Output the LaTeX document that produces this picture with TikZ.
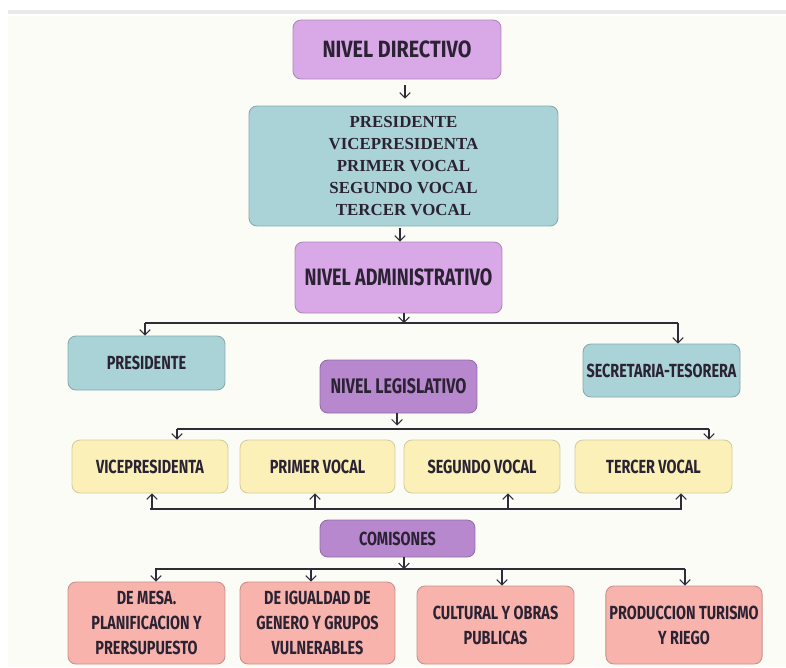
\documentclass[tikz,border=0pt]{standalone}
\usepackage{fontspec}
\setmainfont{Liberation Serif}
\newfontfamily\condfont[FakeStretch=0.76]{Fira Sans}
\newfontfamily\anchafont[FakeStretch=0.84]{Fira Sans}
\usepackage{tikz}
\usetikzlibrary{arrows.meta}
\definecolor{fondo}{HTML}{FCFCF7}
\definecolor{banda}{HTML}{E9E9E9}
\definecolor{violetaclaro}{HTML}{D9A8E7}
\definecolor{violetaosc}{HTML}{B888CF}
\definecolor{celeste}{HTML}{A9D3D7}
\definecolor{amarillo}{HTML}{FAF0B8}
\definecolor{salmon}{HTML}{F8B4AC}
\definecolor{tinta}{HTML}{2B2233}
\definecolor{linea}{HTML}{2F2C3A}

\begin{document}
\begin{tikzpicture}[x=0.02cm,y=-0.02cm,
	caja/.style={rounded corners=4.5pt, line width=0.5pt, text=tinta, align=center, inner sep=2pt},
	nivel/.style={caja, fill=violetaclaro, draw=violetaclaro!80!black, font=\anchafont\bfseries\fontsize{13.4}{15}\selectfont},
	nivelosc/.style={caja, fill=violetaosc, draw=violetaosc!80!black, font=\condfont\bfseries\fontsize{10.8}{13}\selectfont},
	azul/.style={caja, fill=celeste, draw=celeste!80!black, font=\condfont\bfseries\fontsize{10.8}{13}\selectfont},
	amar/.style={caja, fill=amarillo, draw=amarillo!85!black, font=\condfont\bfseries\fontsize{10.8}{13}\selectfont, minimum height=1.06cm},
	rojo/.style={caja, fill=salmon, draw=salmon!80!black, font=\condfont\bfseries\fontsize{10.8}{14.2}\selectfont},
	flecha/.style={draw=linea, line width=0.6pt, -{Straight Barb[length=3pt,width=6pt]}},
	bus/.style={draw=linea, line width=1.3pt}]
	\useasboundingbox (0,0) rectangle (786,667);
	\fill[white] (0,0) rectangle (786,667);
	\fill[banda] (8,10) rectangle (786,14);
	\fill[fondo] (8,16) rectangle (786,667);

	\node[nivel, minimum width=4.16cm, minimum height=1.18cm] (dir) at (397,49.5) {NIVEL DIRECTIVO};
	\node[caja, fill=celeste, draw=celeste!80!black, minimum width=6.18cm, minimum height=2.4cm,
		font=\bfseries\fontsize{9.6}{12.6}\selectfont] (junta) at (403.5,166)
		{PRESIDENTE\\VICEPRESIDENTA\\PRIMER VOCAL\\SEGUNDO VOCAL\\TERCER VOCAL};
	\node[nivel, minimum width=4.14cm, minimum height=1.42cm, font=\condfont\bfseries\fontsize{13.5}{16}\selectfont] (admin) at (398.5,277.5) {NIVEL ADMINISTRATIVO};
	\node[azul, minimum width=3.14cm, minimum height=1.08cm] (pres) at (146.5,363) {PRESIDENTE};
	\node[azul, minimum width=3.14cm, minimum height=1.06cm] (secr) at (661.5,370.5) {SECRETARIA-TESORERA};
	\node[nivelosc, minimum width=3.14cm, minimum height=1.06cm, font=\condfont\bfseries\fontsize{12}{14}\selectfont] (leg) at (398.5,386.5) {NIVEL LEGISLATIVO};
	\node[amar, minimum width=3.12cm] (vice) at (150,466.5) {VICEPRESIDENTA};
	\node[amar, minimum width=3.10cm] (primer) at (317.5,466.5) {PRIMER VOCAL};
	\node[amar, minimum width=3.12cm] (segundo) at (482,466.5) {SEGUNDO VOCAL};
	\node[amar, minimum width=3.14cm] (tercer) at (653.5,466.5) {TERCER VOCAL};
	\node[nivelosc, minimum width=3.10cm, minimum height=0.74cm] (com) at (397.5,538.5) {COMISONES};
	\node[rojo, minimum width=3.14cm, minimum height=1.64cm] (mesa) at (146.5,623) {DE MESA.\\PLANIFICACION Y\\PRERSUPUESTO};
	\node[rojo, minimum width=3.10cm, minimum height=1.64cm] (igual) at (317.5,623) {DE IGUALDAD DE\\GENERO Y GRUPOS\\VULNERABLES};
	\node[rojo, minimum width=3.14cm, minimum height=1.56cm] (cult) at (495.5,625) {CULTURAL Y OBRAS\\PUBLICAS};
	\node[rojo, minimum width=3.12cm, minimum height=1.56cm] (prod) at (684,625) {PRODUCCION TURISMO\\Y RIEGO};

	\coordinate (d1) at (405,85);
	\coordinate (d2) at (400,228);
	\coordinate (b1) at (404,323);
	\coordinate (b1a) at (145,323);
	\coordinate (b1b) at (678,323);
	\coordinate (b2) at (397,429);
	\coordinate (b2a) at (177,429);
	\coordinate (b2b) at (709,429);
	\coordinate (b3a) at (150,509);
	\coordinate (b3b) at (682,509);
	\coordinate (b4) at (404,569);
	\coordinate (b4a) at (155,569);
	\coordinate (b4b) at (685,569);

	\draw[flecha] (d1) -- ([yshift=4pt]d1 |- junta.north);
	\draw[flecha] (d2) -- (d2 |- admin.north);
	\draw[flecha] (admin.south -| b1) -- (b1);
	\draw[bus] (b1a) -- (b1b);
	\draw[flecha] (b1a) -- (b1a |- pres.north);
	\draw[flecha] (b1b) -- (b1b |- secr.north);
	\draw[flecha] (leg.south -| b2) -- ([yshift=2pt]b2);
	\draw[bus] (b2a) -- (b2b);
	\draw[flecha] (b2a) -- (b2a |- vice.north);
	\draw[flecha] (b2b) -- (b2b |- tercer.north);
	\draw[bus] (b3a) -- (b3b);
	\foreach \x/\caja in {152/vice,315/primer,508/segundo,681/tercer}
		\draw[flecha] (\x,509) -- (\x,509 |- \caja.south);
	\draw[flecha] (com.south -| b4) -- (b4);
	\draw[bus] (b4a) -- (b4b);
	\foreach \x/\caja in {156/mesa,311/igual,502/cult,685/prod}
		\draw[flecha] (\x,569) -- (\x,569 |- \caja.north);
\end{tikzpicture}
\end{document}
